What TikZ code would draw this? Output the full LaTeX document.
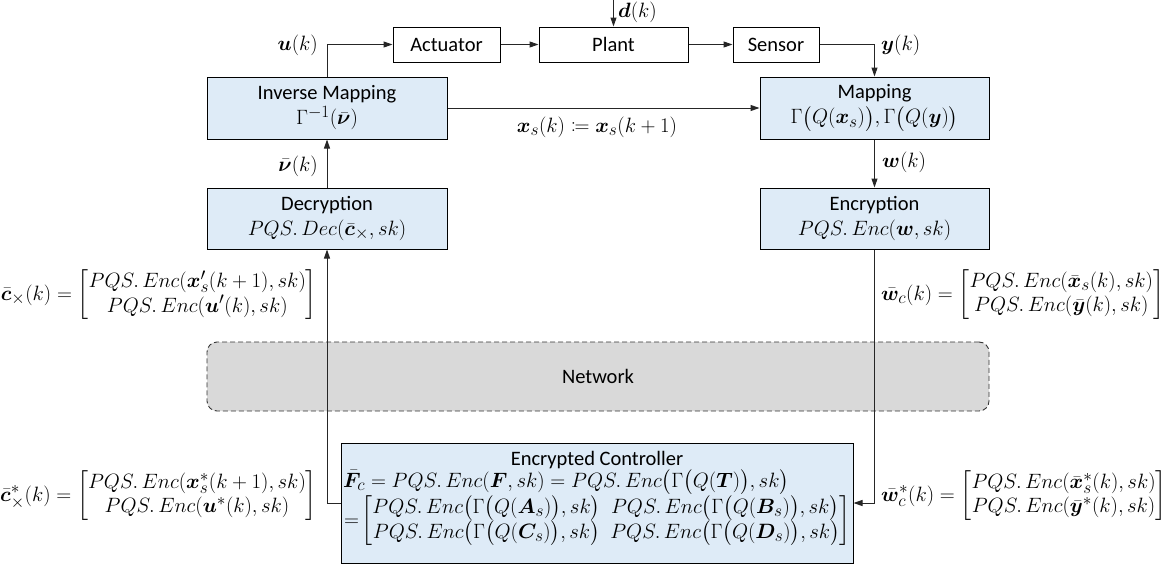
\documentclass[tikz,border=0pt]{standalone}
\usepackage{amsmath,mathtools,bm}
\usepackage{fontspec}
\setmainfont{Carlito}
\DeclareMathSizes{20.5}{22}{16}{12}
\usetikzlibrary{arrows.meta}
\definecolor{boxblue}{HTML}{DEEBF7}
\definecolor{netgray}{HTML}{D9D9D9}
\definecolor{linegray}{HTML}{262626}
\newcommand\pqs{PQS.\,}
\begin{document}
\begin{tikzpicture}[x=1pt,y=-1pt,
  every node/.style={font=\fontsize{20.5}{24}\selectfont},
  plainbox/.style={draw=black, line width=1pt, inner sep=0pt},
  bluebox/.style={plainbox, fill=boxblue, align=center},
  netbox/.style={draw=black!80, dash pattern=on 5pt off 3pt, fill=netgray, rounded corners=10pt, line width=0.9pt},
  arr/.style={draw=linegray, line width=1pt, -{Triangle[length=9pt,width=6pt]}},
  lbl/.style={inner sep=0pt}]
\useasboundingbox (0,0) rectangle (1175,570);

% network
\node[netbox, minimum width=782, minimum height=69] (net) at (598,376.5) {Network};

% plant loop
\node[plainbox, minimum width=107, minimum height=35] (act) at (446.5,44.5) {Actuator};
\node[plainbox, minimum width=149, minimum height=35] (plant) at (613.5,44.5) {Plant};
\node[plainbox, minimum width=86, minimum height=35] (sensor) at (776,44.5) {Sensor};

% blue boxes
\node[bluebox, minimum width=240, minimum height=62] (im) at (327,108) {Inverse Mapping\\[1pt]$\Gamma^{-1}(\bar{\bm{\nu}})$};
\node[bluebox, minimum width=229, minimum height=62] (map) at (874.5,108) {Mapping\\[1pt]$\Gamma\bigl(Q(\bm{x}_s)\bigr),\Gamma\bigl(Q(\bm{y})\bigr)$};
\node[bluebox, minimum width=240, minimum height=61] (dec) at (327,218.5) {Decryption\\[1pt]$\pqs Dec(\bar{\bm{c}}_{\times},sk)$};
\node[bluebox, minimum width=229, minimum height=61] (enc) at (874.5,218.5) {Encryption\\[1pt]$\pqs Enc(\bm{w},sk)$};

% encrypted controller
\node[plainbox, fill=boxblue, minimum width=512, minimum height=120] (ctrl) at (597,503) {};
\node[lbl] (ctitle) at (597,460) {Encrypted Controller};
\node[lbl, anchor=west] (cline) at (343,482) {$\bar{\bm{F}}_c = \pqs Enc(\bm{F},sk) = \pqs Enc\bigl(\Gamma\bigl(Q(\bm{T})\bigr),sk\bigr)$};
\node[lbl, anchor=west] (cmat) at (344,521) {$=\!\begin{bmatrix}\pqs Enc\bigl(\Gamma\bigl(Q(\bm{A}_s)\bigr),sk\bigr) & \pqs Enc\bigl(\Gamma\bigl(Q(\bm{B}_s)\bigr),sk\bigr)\\ \pqs Enc\bigl(\Gamma\bigl(Q(\bm{C}_s)\bigr),sk\bigr) & \pqs Enc\bigl(\Gamma\bigl(Q(\bm{D}_s)\bigr),sk\bigr)\end{bmatrix}$};

% connectors
\coordinate (dtop) at (613.5,0);
\draw[arr] (dtop) -- (plant.north);
\draw[arr] (im.north) |- (act.west);
\draw[arr] (act.east) -- (plant.west);
\draw[arr] (plant.east) -- (sensor.west);
\draw[arr] (sensor.east) -| (map.north);
\draw[arr] (im.east) -- (map.west);
\draw[arr] (map.south) -- (enc.north);
\draw[arr] (dec.north) -- (im.south);
\draw[arr] (ctrl.west) -| (dec.south);
\draw[arr] (enc.south) |- (ctrl.east);

% labels
\node[lbl, anchor=west] (dlab) at (618,12) {$\bm{d}(k)$};
\node[lbl, anchor=east] (ulab) at (318,45) {$\bm{u}(k)$};
\node[lbl, anchor=west] (ylab) at (881,45) {$\bm{y}(k)$};
\node[lbl, anchor=east] (vlab) at (318,166) {$\bar{\bm{\nu}}(k)$};
\node[lbl, anchor=west] (wlab) at (882,162) {$\bm{w}(k)$};
\node[lbl] (xslab) at (597,127) {$\bm{x}_s(k)\coloneqq\bm{x}_s(k+1)$};
\node[lbl, anchor=east] (clab) at (317,295) {$\bar{\bm{c}}_{\times}(k)=\begin{bmatrix}\pqs Enc(\bm{x}'_s(k+1),sk)\\ \pqs Enc(\bm{u}'(k),sk)\end{bmatrix}$};
\node[lbl, anchor=west] (wclab) at (881,295) {$\bar{\bm{w}}_{c}(k)=\begin{bmatrix}\pqs Enc(\bar{\bm{x}}_s(k),sk)\\ \pqs Enc(\bar{\bm{y}}(k),sk)\end{bmatrix}$};
\node[lbl, anchor=east] (cslab) at (317,496) {$\bar{\bm{c}}^*_{\times}(k)=\begin{bmatrix}\pqs Enc(\bm{x}^*_s(k+1),sk)\\ \pqs Enc(\bm{u}^*(k),sk)\end{bmatrix}$};
\node[lbl, anchor=west] (wslab) at (881,496) {$\bar{\bm{w}}^*_{c}(k)=\begin{bmatrix}\pqs Enc(\bar{\bm{x}}^*_s(k),sk)\\ \pqs Enc(\bar{\bm{y}}^*(k),sk)\end{bmatrix}$};
\end{tikzpicture}
\end{document}
